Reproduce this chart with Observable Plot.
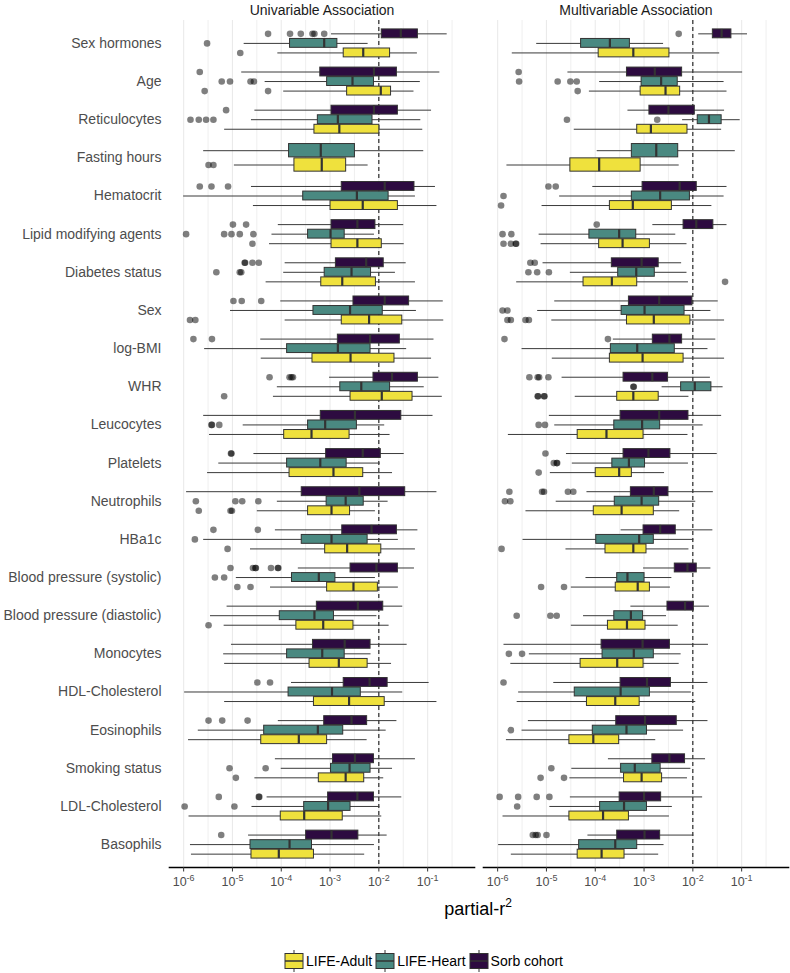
<!DOCTYPE html>
<html><head><meta charset="utf-8">
<script src="https://cdn.jsdelivr.net/npm/d3@7"></script>
<script src="https://cdn.jsdelivr.net/npm/@observablehq/plot@0.6"></script>
<style>
body{margin:0;background:#fff;font-family:"Liberation Sans",Arial,sans-serif;}
#wrap{position:relative;width:790px;height:973px;overflow:hidden;}
#xtitle{position:absolute;left:378px;width:200px;top:899px;text-align:center;font-size:18px;line-height:20px;color:#000;}
#xtitle sup{font-size:12px;vertical-align:8px;line-height:0;}
#legend{position:absolute;left:284px;top:950px;display:flex;align-items:center;font-size:14px;color:#000;}
#legend .item{display:flex;align-items:center;margin-right:3px;}
#legend svg{margin-right:2px;}
</style></head><body><div id="wrap"></div>
<script>
// ---- categories, panels, cohorts ----
const categories = ["Sex hormones","Age","Reticulocytes","Fasting hours","Hematocrit","Lipid modifying agents","Diabetes status","Sex","log-BMI","WHR","Leucocytes","Platelets","Neutrophils","HBa1c","Blood pressure (systolic)","Blood pressure (diastolic)","Monocytes","HDL-Cholesterol","Eosinophils","Smoking status","LDL-Cholesterol","Basophils"];
const panels = ["Univariable Association","Multivariable Association"];
const cohorts = ["LIFE-Adult","LIFE-Heart","Sorb cohort"];
const cohortColors = ["#EFE13D","#4A8981","#2D0B40"];
const tickExponents = [-6,-5,-4,-3,-2,-1];
const minorExponents = [-5.5,-4.5,-3.5,-2.5,-1.5,-0.5];
const threshold = 0.01;

// box statistics as log10(partial r^2): [lower whisker, Q1, median, Q3, upper whisker]
const uniSorb = [
 [-2.97,-1.94,-1.55,-1.20,-0.60],[-4.81,-3.20,-2.10,-1.63,-0.75],[-4.54,-2.97,-2.10,-1.61,-0.92],null,
 [-4.61,-2.76,-1.88,-1.27,-0.84],[-4.06,-2.97,-2.44,-2.07,-1.49],[-3.92,-2.88,-2.26,-1.90,-1.44],[-4.01,-2.52,-1.88,-1.38,-0.68],
 [-4.42,-2.84,-2.18,-1.57,-0.87],[-3.01,-2.11,-1.73,-1.20,-0.77],[-5.59,-3.19,-2.49,-1.54,-0.89],[-4.56,-3.08,-2.33,-1.96,-1.48],
 [-5.94,-3.58,-2.40,-1.46,-0.81],[-4.12,-2.75,-2.15,-1.63,-1.20],[-3.65,-2.58,-2.05,-1.61,-1.27],[-5.11,-3.27,-2.43,-1.91,-1.51],
 [-5.02,-3.35,-2.70,-2.17,-1.42],[-3.79,-2.72,-2.19,-1.82,-0.97],[-4.06,-3.12,-2.56,-2.24,-1.63],[-4.12,-2.94,-2.49,-2.10,-1.25],
 [-4.29,-3.04,-2.44,-2.10,-1.53],[-4.67,-3.49,-2.97,-2.42,-1.83]];
const uniSorbOut = [
 [-4.27,-3.82,-3.60,-3.36,-3.32,-3.12],[-5.67],[-5.13],[],[-5.67,-5.43,-5.09],[-4.99,-4.72],[-4.75,-4.74,-4.59,-4.46],
 [-4.98,-4.81,-4.41],[-5.80,-5.42],[-4.24,-3.83,-3.79,-3.76],[],[-5.03,-5.02],[],[-5.39,-4.48],
 [-5.04,-4.58,-4.53,-4.52,-4.21,-4.07,-4.06],[],[],[-4.49,-4.23],[-5.49,-5.21,-4.69],[],[-5.28,-4.46,-4.45],[-5.23]];

const uniHeart = [
 [-4.76,-3.82,-3.12,-2.85,-2.22],[-4.33,-3.06,-2.54,-2.10,-1.15],[-4.61,-3.25,-2.84,-2.13,-1.14],[-5.59,-3.84,-3.19,-2.49,-1.08],
 [-6.00,-3.55,-2.45,-1.80,-1.25],[-4.19,-3.45,-2.99,-2.70,-2.09],[-3.95,-3.11,-2.56,-2.16,-1.66],[-5.04,-3.34,-2.59,-1.92,-1.23],
 [-5.57,-3.88,-2.84,-2.17,-1.43],[-4.08,-2.79,-2.36,-1.77,-1.07],[-4.78,-3.45,-3.10,-2.45,-1.88],[-5.28,-3.88,-3.20,-2.66,-1.97],
 [-4.08,-3.07,-2.68,-2.31,-1.81],[-5.59,-3.58,-2.97,-2.23,-1.60],[-4.92,-3.78,-3.23,-2.89,-2.07],[-5.45,-4.03,-3.32,-2.92,-2.04],
 [-5.18,-3.88,-3.16,-2.70,-2.16],[-5.98,-3.85,-2.96,-2.37,-1.51],[-5.70,-4.35,-3.25,-2.73,-1.85],[-4.00,-2.98,-2.60,-2.17,-1.72],
 [-4.60,-3.53,-3.04,-2.58,-1.98],[-5.86,-4.63,-3.83,-3.37,-2.09]];
const uniHeartOut = [
 [-5.52],[-5.22,-5.05,-4.63,-4.56],[-5.86,-5.69,-5.54,-5.39],[],[],[-5.95,-5.17,-5.02,-4.85,-4.57],[-5.33,-4.85,-4.82],
 [],[],[],[-5.43,-5.42,-5.27],[],[-5.75,-4.94,-4.80,-4.47],[-5.77],[-5.36,-5.17],[],[],[],[],[-5.06,-4.32],[-5.98,-4.96],[]];

const uniAdult = [
 [-4.07,-2.72,-2.32,-1.77,-1.21],[-3.95,-2.65,-1.96,-1.75,-1.28],[-5.16,-3.32,-2.81,-1.99,-1.10],[-4.96,-3.73,-3.17,-2.67,-2.22],
 [-4.57,-2.99,-2.33,-1.61,-0.81],[-4.24,-2.97,-2.44,-1.94,-1.48],[-4.31,-3.18,-2.75,-2.06,-1.25],[-3.92,-2.76,-2.20,-1.52,-0.67],
 [-4.41,-3.36,-2.58,-1.68,-0.92],[-4.16,-2.58,-1.94,-1.31,-0.70],[-5.47,-3.94,-3.38,-2.60,-1.77],[-5.51,-3.83,-2.93,-2.32,-1.72],
 [-4.49,-3.45,-2.97,-2.59,-2.07],[-4.63,-3.10,-2.65,-1.95,-1.25],[-4.22,-3.06,-2.52,-2.02,-1.60],[-5.17,-3.69,-3.14,-2.52,-1.79],
 [-5.16,-3.42,-2.82,-2.23,-1.74],[-5.16,-3.33,-2.61,-1.88,-0.81],[-5.90,-4.41,-3.64,-3.06,-2.24],[-4.54,-3.23,-2.68,-2.30,-1.90],
 [-5.89,-4.01,-3.53,-2.74,-1.94],[-5.84,-4.61,-4.05,-3.33,-2.29]];
const uniAdultOut = [
 [-4.84],[-5.57,-4.27],[],[-5.49,-5.39],[],[-4.59],[],[-5.87,-5.76],[],[-5.17],[],[],[-5.69,-5.04,-5.01],[-5.10],
 [-4.90,-4.63],[-5.49],[],[],[],[-4.93],[],[]];

const multiSorb = [
 [-1.88,-1.59,-1.41,-1.21,-0.88],[-4.56,-3.35,-2.78,-2.22,-0.98],[-3.33,-2.89,-2.50,-1.96,-1.35],null,
 [-4.05,-3.03,-2.27,-1.92,-1.30],[-2.82,-2.19,-1.93,-1.58,-1.30],[-5.07,-3.66,-3.05,-2.70,-2.23],[-4.83,-3.31,-2.69,-2.01,-1.48],
 [-3.63,-2.82,-2.48,-2.22,-1.53],[-4.68,-3.42,-2.83,-2.51,-1.64],[-4.94,-3.48,-2.69,-2.09,-1.41],[-4.59,-3.42,-2.91,-2.46,-1.50],
 [-4.17,-3.27,-2.80,-2.50,-1.58],[-3.47,-3.01,-2.67,-2.35,-1.59],[-3.01,-2.37,-2.11,-1.92,-1.63],[-3.27,-2.52,-2.16,-1.98,-1.66],
 [-5.87,-3.87,-3.03,-2.47,-1.68],[-4.85,-3.48,-2.94,-2.45,-1.69],[-5.37,-3.57,-2.98,-2.33,-1.69],[-3.73,-2.83,-2.48,-2.16,-1.74],
 [-4.51,-3.50,-3.00,-2.65,-1.80],[-4.15,-3.55,-2.99,-2.67,-1.98]];
const multiSorbOut = [
 [-2.29],[-5.57],[],[],[-4.96,-4.81],[-3.97],[-5.33,-5.24],[],[-5.86,-3.74],[-5.35,-5.18,-5.15,-4.96],[],[-5.02],
 [-5.76,-5.09,-5.05,-4.56,-4.45],[],[],[],[],[-5.88],[],[],[-5.96,-5.58,-5.20,-4.94],[-5.28,-5.22,-5.18,-5.00]];

const multiHeart = [
 [-5.20,-4.29,-3.70,-3.29,-2.60],[-3.91,-3.05,-2.65,-2.31,-1.36],[-2.21,-1.90,-1.67,-1.41,-1.03],[-3.96,-3.25,-2.75,-2.30,-1.13],
 [-4.73,-3.25,-2.67,-2.06,-1.36],[-5.15,-4.12,-3.51,-3.16,-2.35],[-4.51,-3.53,-3.16,-2.78,-2.12],[-5.18,-3.46,-2.99,-2.17,-1.63],
 [-5.50,-3.68,-3.14,-2.37,-1.69],[-2.63,-2.24,-1.96,-1.62,-1.38],[-4.83,-3.61,-3.04,-2.67,-1.79],[-4.47,-3.65,-3.31,-2.98,-2.09],
 [-4.80,-3.60,-3.05,-2.69,-1.94],[-5.48,-3.98,-3.10,-2.80,-1.98],[-4.19,-3.55,-3.34,-2.99,-2.43],[-4.24,-3.61,-3.27,-3.02,-2.54],
 [-5.35,-3.85,-3.21,-2.80,-2.24],[-5.57,-4.42,-3.48,-2.88,-2.03],[-5.50,-4.05,-3.36,-2.94,-2.19],[-4.48,-3.47,-3.19,-2.66,-2.04],
 [-4.93,-3.90,-3.41,-2.94,-2.42],[-5.98,-4.33,-3.59,-3.14,-2.59]];
const multiHeartOut = [
 [],[-5.56,-4.77,-4.51,-4.38],[-4.58,-2.73],[],[-5.88],[-5.90,-5.72],[-5.37,-5.19,-4.95],[-5.90,-5.80],[],[-3.22,-3.21],
 [-5.16,-5.03],[-4.85,-4.79,-4.78],[-5.85,-5.74],[],[],[-5.61,-4.92,-4.79],[-5.77,-5.50],[],[-5.73],[-4.90],[-5.60],[]];

const multiAdult = [
 [-5.70,-3.93,-3.22,-2.48,-1.45],[-4.12,-3.07,-2.56,-2.26,-1.30],[-4.43,-3.14,-2.86,-2.11,-1.41],[-5.81,-4.51,-3.92,-3.07,-2.28],
 [-5.09,-3.70,-3.23,-2.43,-1.61],[-5.11,-3.92,-3.44,-2.88,-2.12],[-5.61,-4.24,-3.66,-3.14,-2.09],[-4.89,-3.35,-2.80,-2.05,-1.35],
 [-4.88,-3.70,-3.03,-2.19,-1.35],[-4.41,-3.55,-3.22,-2.70,-2.08],[-5.78,-4.36,-3.77,-3.01,-2.10],[-4.92,-3.99,-3.51,-3.25,-2.58],
 [-5.42,-4.03,-3.46,-2.80,-2.27],[-4.60,-3.79,-3.22,-2.95,-2.08],[-4.49,-3.58,-3.13,-2.88,-2.46],[-4.49,-3.74,-3.35,-2.97,-2.30],
 [-5.73,-4.30,-3.55,-3.01,-2.28],[-5.60,-4.17,-3.59,-3.09,-1.94],[-5.82,-4.53,-4.04,-3.51,-2.76],[-4.52,-3.41,-3.05,-2.63,-2.11],
 [-5.89,-4.53,-3.84,-3.31,-2.48],[-5.72,-4.36,-3.87,-3.40,-2.70]];
const multiAdultOut = [
 [],[-4.36],[],[],[-5.93],[-5.88,-5.73,-5.63,-5.62],[-1.34],[-5.80,-5.73,-5.43,-5.36],[],[-5.18,-5.17,-5.05,-5.04],
 [],[-5.16],[],[-5.92],[-5.11,-4.64],[],[],[],[],[-5.12,-4.64],[],[]];

// ---- assemble (order top -> bottom within a category: Sorb, Heart, Adult) ----
const series = [
 {panel: panels[0], cohort: "Sorb cohort", stats: uniSorb, out: uniSorbOut},
 {panel: panels[0], cohort: "LIFE-Heart", stats: uniHeart, out: uniHeartOut},
 {panel: panels[0], cohort: "LIFE-Adult", stats: uniAdult, out: uniAdultOut},
 {panel: panels[1], cohort: "Sorb cohort", stats: multiSorb, out: multiSorbOut},
 {panel: panels[1], cohort: "LIFE-Heart", stats: multiHeart, out: multiHeartOut},
 {panel: panels[1], cohort: "LIFE-Adult", stats: multiAdult, out: multiAdultOut}
];
const groupWidth = 0.75, boxFrac = 0.93;
const boxes = [], outliers = [];
for (const panel of panels) {
  const ss = series.filter(s => s.panel === panel);
  categories.forEach((cat, i) => {
    const present = ss.filter(s => s.stats[i]);
    const n = present.length, slot = groupWidth / n;
    present.forEach((s, k) => {
      const st = s.stats[i];
      const yc = i - groupWidth / 2 + (k + 0.5) * slot;
      const h = slot * boxFrac / 2;
      boxes.push({panel, cohort: s.cohort, yc, y1: yc - h, y2: yc + h,
        lo: 10 ** st[0], q1: 10 ** st[1], med: 10 ** st[2], q3: 10 ** st[3], hi: 10 ** st[4]});
      for (const e of s.out[i]) outliers.push({panel, cohort: s.cohort, yc, x: 10 ** e});
    });
  });
}

const chart = Plot.plot({
  width: 790, height: 900,
  marginLeft: 168, marginRight: 2, marginTop: 20, marginBottom: 33,
  style: {fontFamily: "'Liberation Sans', Arial, sans-serif", background: "white", overflow: "visible"},
  x: {type: "log", domain: [10 ** -6.29, 10 ** -0.04]},
  y: {domain: [-0.6, categories.length - 0.4], reverse: true},
  fx: {domain: panels, paddingInner: 0.029, paddingOuter: 0, label: null},
  color: {domain: cohorts, range: cohortColors},
  marks: [
    Plot.gridX({ticks: minorExponents.map(e => 10 ** e), stroke: "#EBEBEB", strokeOpacity: 1, strokeWidth: 0.8}),
    Plot.gridX({ticks: tickExponents.map(e => 10 ** e), stroke: "#E6E6E6", strokeOpacity: 1, strokeWidth: 0.9}),
    Plot.ruleX([threshold], {stroke: "#000", strokeWidth: 1, strokeDasharray: "4,3"}),
    Plot.ruleY(boxes, {fx: "panel", y: "yc", x1: "lo", x2: "hi", stroke: "#3a3a3a", strokeWidth: 1}),
    Plot.rect(boxes, {fx: "panel", x1: "q1", x2: "q3", y1: "y1", y2: "y2", fill: "cohort", stroke: "#333", strokeWidth: 1}),
    Plot.ruleX(boxes, {fx: "panel", x: "med", y1: "y1", y2: "y2", stroke: "#333", strokeWidth: 2.2}),
    Plot.dot(outliers, {fx: "panel", x: "x", y: "yc", r: 3.3, fill: "#000", fillOpacity: 0.5, stroke: "none"}),
    Plot.frame({anchor: "bottom", stroke: "#000", strokeWidth: 1.6}),
    Plot.axisX({ticks: tickExponents.map(e => 10 ** e), tickFormat: d => "10^" + Math.round(Math.log10(d)),
      tickSize: 4.5, tickPadding: 5, fontSize: 12.5, color: "#4D4D4D", stroke: "#333", label: null}),
    Plot.axisY({ticks: d3.range(categories.length), tickFormat: i => categories[i], tickSize: 0, tickPadding: 8,
      fontSize: 14, color: "#4D4D4D", label: null}),
    Plot.axisFx({anchor: "top", tickSize: 0, tickPadding: 6, fontSize: 14, color: "#1A1A1A", label: null})
  ]
});

// superscript exponents in x tick labels
d3.select(chart).selectAll('g[aria-label="x-axis tick label"] text').each(function() {
  const t = this.textContent;
  const m = t.match(/^10\^(-?\d+)$/);
  if (!m) return;
  const el = d3.select(this);
  el.text("10");
  el.append("tspan").attr("dy", "-0.5em").attr("font-size", "9px").text(m[1]);
});

const wrap = document.getElementById("wrap");
wrap.appendChild(chart);

const xt = document.createElement("div");
xt.id = "xtitle";
xt.innerHTML = "partial-r<sup>2</sup>";
wrap.appendChild(xt);

const legend = document.createElement("div");
legend.id = "legend";
cohorts.forEach((c, i) => {
  const item = document.createElement("div");
  item.className = "item";
  item.innerHTML = `<svg width="20" height="22" viewBox="0 0 20 22">
    <line x1="10" x2="10" y1="0" y2="22" stroke="#333" stroke-width="1"/>
    <rect x="1" y="3.5" width="18" height="15" fill="${cohortColors[i]}" stroke="#333" stroke-width="1"/>
    <line x1="1" x2="19" y1="11" y2="11" stroke="#333" stroke-width="1.5"/></svg><span>${c}</span>`;
  legend.appendChild(item);
});
wrap.appendChild(legend);
</script></body></html>
